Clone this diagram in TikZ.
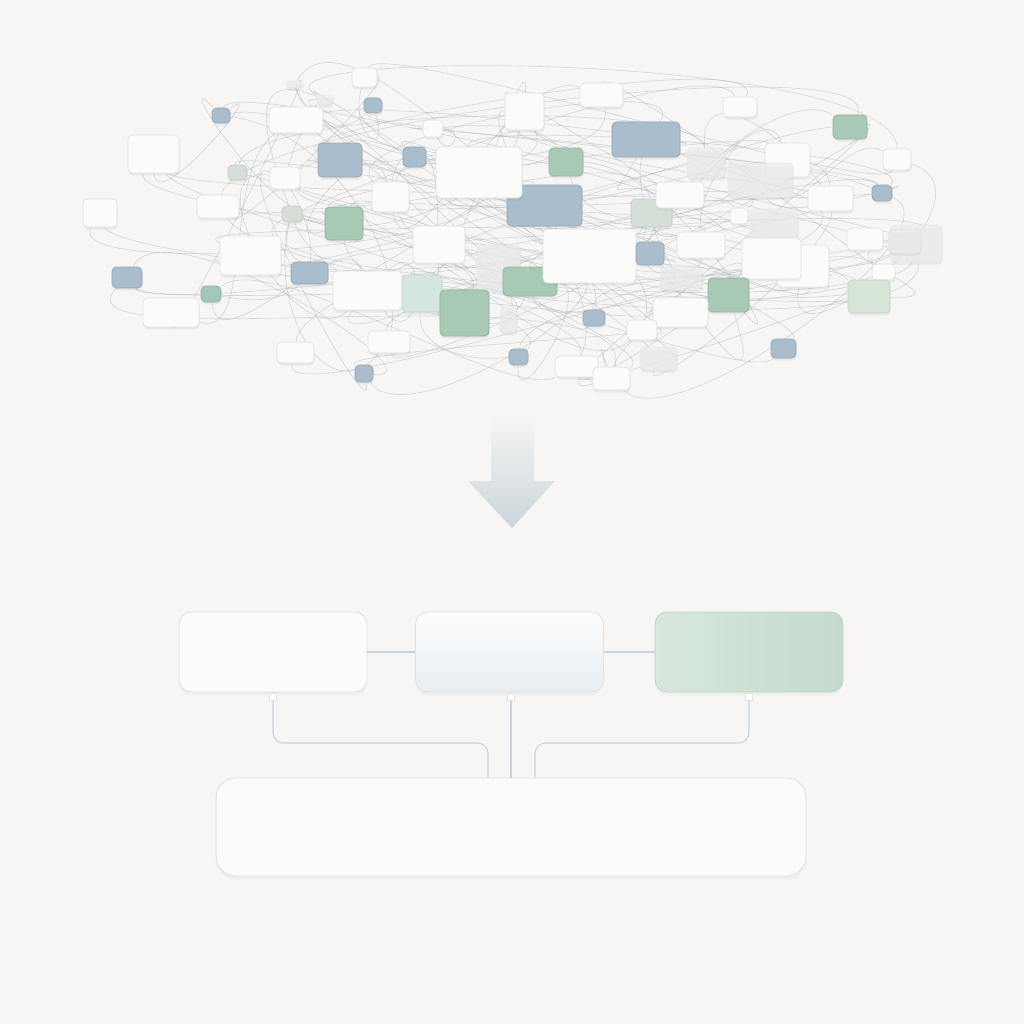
\documentclass[tikz,border=0pt]{standalone}
\usepackage{tikz}
\usetikzlibrary{shadows,calc}

\definecolor{paper}{HTML}{F7F6F4}
\definecolor{cardwhite}{HTML}{FBFBFA}
\definecolor{cardedge}{HTML}{DFE1E2}
\definecolor{ghost}{HTML}{ECEDED}
\definecolor{steel}{HTML}{AABDCC}
\definecolor{sage}{HTML}{A8C9B3}
\definecolor{mist}{HTML}{D5E6DE}
\definecolor{leaf}{HTML}{D6DED8}
\definecolor{tealish}{HTML}{A2C6B7}
\definecolor{pale}{HTML}{D6E5D6}
\definecolor{wirecol}{HTML}{A2AEB8}
\definecolor{linkcol}{HTML}{C6D3DC}
\definecolor{arrowend}{HTML}{CCD5DA}

\pgfdeclarelayer{paperlayer}
\pgfdeclarelayer{wires}
\pgfsetlayers{paperlayer,wires,main}

\tikzset{
  card/.style={draw=cardedge, line width=0.4pt, rounded corners=2.5pt, inner sep=0pt,
    drop shadow={shadow xshift=0.3pt, shadow yshift=-1.5pt, opacity=0.1}},
  wcard/.style={fill=cardwhite},
  gcard/.style={fill=ghost, fill opacity=0.7, draw opacity=0.5},
  bcard/.style={fill=steel, draw=steel!88!black},
  ncard/.style={fill=sage, draw=sage!88!black},
  mcard/.style={fill=mist, draw=mist!92!black},
  lcard/.style={fill=leaf, draw=leaf!92!black},
  tcard/.style={fill=tealish, draw=tealish!88!black},
  pcard/.style={fill=pale, draw=pale!92!black},
  wire/.style={draw=wirecol, line width=0.35pt, opacity=0.45},
  panel/.style={draw=cardedge, line width=0.5pt, rounded corners=7pt, inner sep=0pt,
    minimum width=3.76cm, minimum height=1.6cm, fill=cardwhite,
    drop shadow={shadow xshift=0pt, shadow yshift=-2pt, opacity=0.06}},
  port/.style={draw=cardedge, fill=white, line width=0.4pt, inner sep=0pt, minimum size=0.14cm},
  link/.style={draw=linkcol, line width=0.6pt}
}

\begin{document}
\begin{tikzpicture}[x=0.02cm, y=-0.02cm]
\useasboundingbox (0,0) rectangle (1024,1024);
\begin{pgfonlayer}{paperlayer}
  \fill[paper] (0,0) rectangle (1024,1024);
\end{pgfonlayer}

% the tangle of cards
\foreach \xa/\ya/\xb/\yb/\sty [count=\i] in {
  477/245/520/290/gcard, 765/143/810/177/wcard, 687/148/725/178/gcard,
  728/163/793/197/gcard, 750/209/798/240/gcard, 777/245/829/287/wcard,
  660/267/702/290/gcard, 500/308/517/333/gcard, 640/347/677/370/gcard,
  890/225/942/262/gcard, 286/81/303/88/gcard, 317/95/333/105/gcard,
  352/68/377/87/wcard, 364/98/382/113/bcard, 212/108/230/123/bcard,
  269/107/323/133/wcard, 423/120/443/137/wcard, 128/135/179/173/wcard,
  318/143/362/177/bcard, 403/147/426/167/bcard, 228/165/247/180/lcard,
  270/167/300/189/wcard, 372/182/409/212/wcard, 83/199/117/227/wcard,
  197/195/239/218/wcard, 282/206/302/222/lcard, 325/207/363/240/ncard,
  413/226/465/263/wcard, 220/236/281/275/wcard, 291/262/328/284/bcard,
  112/267/142/288/bcard, 333/271/402/310/wcard, 402/275/442/312/mcard,
  440/290/489/336/ncard, 201/286/221/302/tcard, 143/298/199/327/wcard,
  368/331/410/353/wcard, 277/342/314/363/wcard, 355/365/373/382/bcard,
  509/349/528/365/bcard, 503/267/557/296/ncard, 580/83/623/107/wcard,
  505/93/544/130/wcard, 723/97/757/117/wcard, 833/115/867/139/ncard,
  612/122/680/157/bcard, 549/148/583/176/ncard, 883/149/911/170/wcard,
  507/185/582/226/bcard, 436/147/522/198/wcard, 631/199/672/227/lcard,
  656/182/704/208/wcard, 808/186/853/211/wcard, 872/185/892/201/bcard,
  730/208/748/224/wcard, 543/229/636/283/wcard, 636/242/664/265/bcard,
  677/232/725/258/wcard, 847/228/883/250/wcard, 888/230/921/253/gcard,
  742/238/801/279/wcard, 708/278/749/312/ncard, 872/264/895/280/wcard,
  848/280/890/313/pcard, 653/298/708/327/wcard, 583/310/605/326/bcard,
  627/320/657/340/wcard, 771/339/796/358/bcard, 555/356/598/377/wcard,
  593/367/630/390/wcard}
{
  \node[card, \sty, minimum width={(\xb-\xa)*0.02cm}, minimum height={(\yb-\ya)*0.02cm}]
    (c\i) at ({(\xa+\xb)/2},{(\ya+\yb)/2}) {};
  \xdef\ncards{\i}
}

% wires behind the cards
\pgfmathsetseed{11}
\begin{pgfonlayer}{wires}
  \foreach \i in {1,...,\ncards} {
    \foreach \k in {1,2} {
      \pgfmathrandominteger{\j}{1}{\ncards}
      \pgfmathsetmacro{\p}{rnd*360}
      \pgfmathsetmacro{\q}{rnd*360}
      \pgfmathsetmacro{\r}{30+rnd*90}
      \draw[wire] (c\i) .. controls +(\p:\r) and +(\q:\r) .. (c\j);
    }
  }
\end{pgfonlayer}

% arrow
\shade[top color=paper, bottom color=arrowend]
  (491,413) -- (534,413) -- (534,481) -- (555,481) -- (512,528) -- (468,481) -- (491,481) -- cycle;

% tidy structure
\node[panel] (src) at (273,652) {};
\node[panel, top color=white!70!linkcol!15, bottom color=linkcol!40!white] (mid) at (509.5,652) {};
\node[panel, draw=sage!75!white, left color=sage!45!white, right color=sage!68!white] (tgt) at (749,652) {};
\node[panel, rounded corners=11pt, minimum width=11.8cm, minimum height=1.96cm] (base) at (511,827) {};

\draw[link] (src) -- (mid);
\draw[link] (mid) -- (tgt);

\node[port] (pa) at (273,697) {};
\node[port] (pb) at (511,697) {};
\node[port] (pc) at (749,697) {};

\coordinate (ja) at (488,743);
\coordinate (jc) at (535,743);
\draw[link, rounded corners=6pt] (pa.south) |- (ja) -- (ja |- base.north);
\draw[link] (pb.south) -- (pb.south |- base.north);
\draw[link, rounded corners=6pt] (pc.south) |- (jc) -- (jc |- base.north);
\end{tikzpicture}
\end{document}
